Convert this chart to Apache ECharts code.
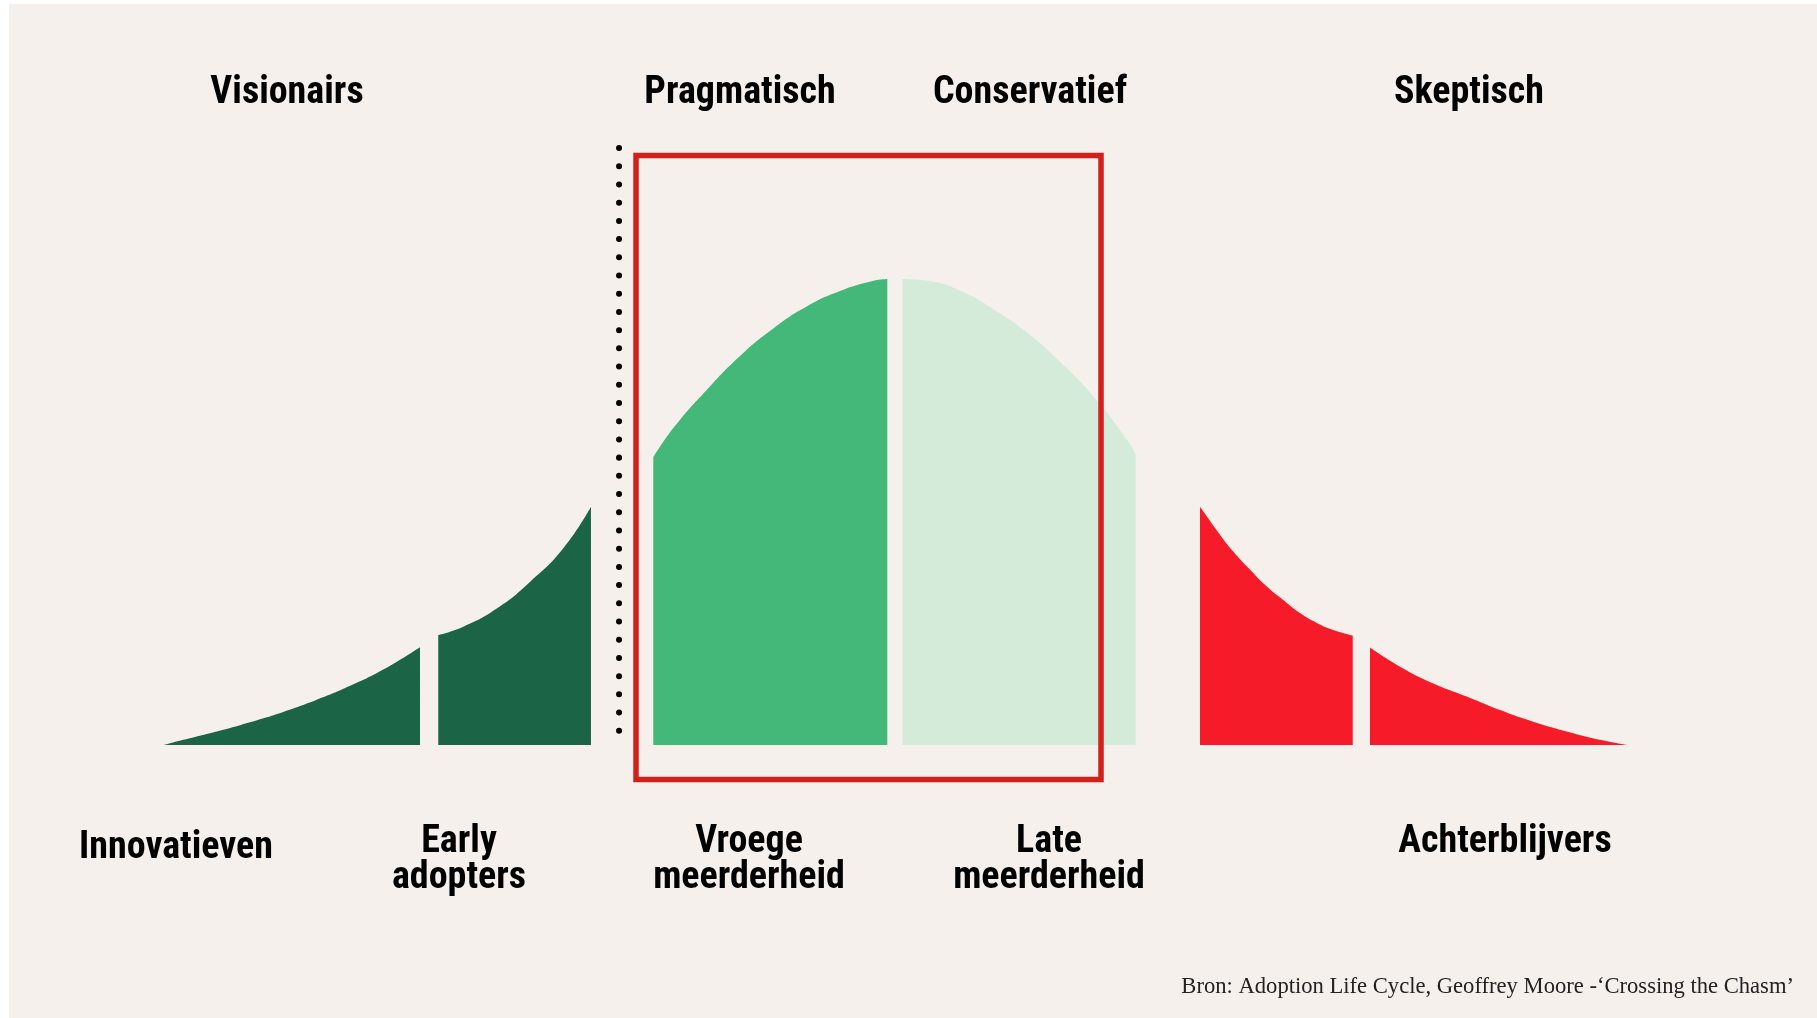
<!DOCTYPE html>
<html><head><meta charset="utf-8">
<script src="https://cdn.jsdelivr.net/npm/echarts@6/dist/echarts.min.js"></script>
<style>
html,body{margin:0;padding:0;background:#ffffff;}
#bg{position:absolute;left:9px;top:4px;width:1808px;height:1014px;background:#F5F0EC;}
#chart{position:absolute;left:0;top:0;width:1817px;height:1018px;}
</style></head><body>
<div id="bg"></div><div id="chart"></div>
<script>
// x: position along the adoption curve (0-100), y: height as % of the peak
const innovatieven = [[0,0],[1.32,1.1],[3.60,2.9],[5.88,4.9],[8.16,7.1],[10.44,9.7],[12.72,12.7],[14.99,16.2],[17.50,21.0]];
const earlyAdopters = [[18.75,23.6],[20.46,25.4],[22.75,29.3],[25.02,35.0],[27.30,42.2],[29.19,51.1]];
const vroegeMeerderheid = [[33.45,61.7],[34.82,68.0],[37.10,76.2],[39.38,83.5],[41.66,89.4],[43.94,94.1],[46.22,97.4],[48.50,99.6],[49.45,100]];
const lateMeerderheid = [[50.48,100],[52.25,99.6],[54.54,97.3],[56.81,93.3],[59.09,88.3],[61.37,81.9],[63.65,74.4],[65.93,65.1],[66.43,62.4]];
const achterblijversA = [[70.83,51.1],[71.97,46.1],[73.10,41.5],[74.25,37.6],[75.39,34.0],[76.52,31.1],[77.66,28.3],[78.81,26.2],[79.94,24.7],[81.27,23.5]];
const achterblijversB = [[82.45,20.9],[84.50,16.8],[86.78,13.2],[89.06,10.4],[91.34,7.5],[93.61,5.0],[95.90,2.9],[98.17,1.1],[100,0]];
const chasm = [[31.11,128.1],[31.11,2.8]];
const mainstreamBox = [[32.27,126.5],[64.06,126.5],[64.06,-7.4],[32.27,-7.4],[32.27,126.5]];

const topLabels = ['Visionairs','Pragmatisch','Conservatief','Skeptisch'];
const bottomLabels = [['Innovatieven'],['Early','adopters'],['Vroege','meerderheid'],['Late','meerderheid'],['Achterblijvers']];
const sourceText = 'Bron: Adoption Life Cycle, Geoffrey Moore -\u2018Crossing the Chasm\u2019';

// layout (pixels)
const topX = [287, 740, 1030, 1469], topY = 93;
const botX = [176, 459, 749, 1049, 1505], botY = [848, 842, 842, 842, 842], lineGap = 36;

const FONT = "'Liberation Sans Narrow','Roboto Condensed','Arial Narrow','DejaVu Sans Condensed',sans-serif";
const COL = {dark:'#1C6446', mid:'#44B879', light:'#D4EBDA', red:'#F61B29', box:'#D0221B'};

function area(data, color){
  return {type:'line', data, smooth:0.5, symbol:'none', silent:true, z:2,
    lineStyle:{width:0, color}, areaStyle:{color, opacity:1}};
}

const graphics = [];
topLabels.forEach((t,i)=>graphics.push({type:'text', x:topX[i], y:topY, style:{text:t, font:'bold 38px '+FONT, fill:'#000', align:'center', verticalAlign:'middle'}}));
bottomLabels.forEach((lines,i)=>lines.forEach((t,j)=>graphics.push({type:'text', x:botX[i], y:botY[i]+j*lineGap, style:{text:t, font:'bold 38px '+FONT, fill:'#000', align:'center', verticalAlign:'middle'}})));
graphics.push({type:'text', x:1794, y:987, style:{text:sourceText, font:"22.6px 'Liberation Serif','DejaVu Serif',serif", fill:'#222', align:'right', verticalAlign:'middle'}});

const chart = echarts.init(document.getElementById('chart'), null, {renderer:'canvas'});
chart.setOption({
  animation:false,
  backgroundColor:'transparent',
  grid:{left:164, right:190.3, top:139.2, bottom:226.4},
  xAxis:{type:'value', min:0, max:100, show:false},
  yAxis:{type:'value', min:-10, max:130, show:false},
  series:[
    area(innovatieven, COL.dark),
    area(earlyAdopters, COL.dark),
    area(vroegeMeerderheid, COL.mid),
    area(lateMeerderheid, COL.light),
    area(achterblijversA, COL.red),
    area(achterblijversB, COL.red),
    {type:'line', data:chasm, symbol:'none', silent:true, z:3, clip:false,
      lineStyle:{color:'#000', width:6, type:[0.01,18.2], cap:'round'}},
    {type:'line', data:mainstreamBox, symbol:'none', silent:true, z:4, clip:false,
      lineStyle:{color:COL.box, width:5.5, join:'miter', cap:'square'}}
  ],
  graphic:graphics
});
</script>
</body></html>
